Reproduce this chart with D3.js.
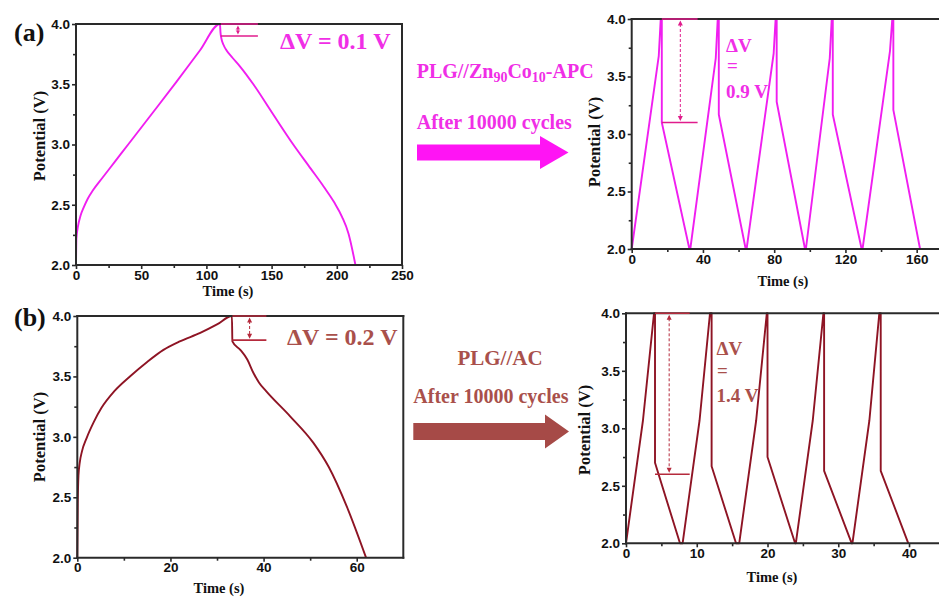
<!DOCTYPE html>
<html>
<head>
<meta charset="utf-8">
<script src="https://cdn.jsdelivr.net/npm/d3@7/dist/d3.min.js"></script>
<style>
  body { margin: 0; background: #fff; }
  svg { display: block; }
</style>
</head>
<body>
<svg id="fig" width="939" height="598"></svg>
<script>
// ---------- data: galvanostatic charge/discharge curves, [time (s), potential (V)] ----------

// PLG//Zn90Co10-APC, single cycle
const apcCycle = [
  [0, 2.0], [0.3, 2.22], [1.5, 2.32], [3.5, 2.41], [6, 2.48], [9, 2.55], [13, 2.62],
  [20, 2.72], [30, 2.86], [40, 3.0], [60, 3.28], [77, 3.52], [95, 3.78],
  [110.4, 4.0],
  [110.8, 3.93], [111.5, 3.88], [113, 3.83], [115.5, 3.78], [120, 3.72], [126, 3.645],
  [136, 3.5], [150, 3.27], [166.6, 3.0], [180, 2.8], [190, 2.65], [198, 2.52],
  [204, 2.4], [209, 2.26], [214.3, 2.0]
];

// PLG//Zn90Co10-APC, after 10000 cycles
const apcAged = [
  [0, 2.0], [15.2, 3.68], [16.3, 4.0], [16.9, 4.0], [16.9, 3.1], [32.4, 2.0],
  [32.9, 2.0], [47.2, 3.66], [48.3, 4.0], [48.9, 4.0], [48.9, 3.17], [64.0, 2.0],
  [64.5, 2.0], [79.7, 3.7], [80.8, 4.0], [81.4, 4.0], [81.4, 3.28], [97.3, 2.0],
  [97.8, 2.0], [111.2, 3.66], [112.3, 4.0], [112.9, 4.0], [112.9, 3.17], [129.1, 2.0],
  [129.6, 2.0], [145.0, 3.72], [146.3, 4.0], [146.9, 4.0], [146.9, 3.21], [161.9, 2.0]
];

// PLG//AC, single cycle
const acCycle = [
  [0, 2.0], [0.1, 2.45], [0.25, 2.68], [0.5, 2.78], [1.0, 2.88], [2.0, 2.99],
  [3.5, 3.12], [5.2, 3.24], [8, 3.38], [11.3, 3.5], [15, 3.62], [18.5, 3.72],
  [22, 3.79], [26.4, 3.86], [30, 3.93], [33.2, 4.0],
  [33.3, 3.79], [35, 3.72], [36.5, 3.64], [37.8, 3.53], [39, 3.45], [40.5, 3.38],
  [45.7, 3.17], [50.7, 2.95], [54, 2.75], [57.9, 2.42], [62, 2.0]
];

// PLG//AC, after 10000 cycles
const acAged = [
  [0, 2.0], [2.4, 3.07], [3.96, 4.0], [4.1, 4.0], [4.1, 2.7], [7.63, 2.0],
  [8.0, 2.0], [10.4, 3.07], [11.87, 4.0], [12.1, 4.0], [12.1, 2.67], [15.55, 2.0],
  [16.0, 2.0], [18.4, 3.07], [19.9, 4.0], [20.0, 4.0], [20.0, 2.75], [23.9, 2.0],
  [24.0, 2.0], [26.4, 3.07], [27.9, 4.0], [28.0, 4.0], [28.0, 2.63], [31.9, 2.0],
  [32.0, 2.0], [34.4, 3.07], [35.8, 4.0], [36.0, 4.0], [36.0, 2.63], [39.9, 2.0]
];

// tick values
const potentialMajor = [2.0, 2.5, 3.0, 3.5, 4.0];
const potentialMinor = [2.25, 2.75, 3.25, 3.75];
const apcTimeMajor = [0, 50, 100, 150, 200, 250];
const apcTimeMinor = [25, 75, 125, 175, 225];
const apcAgedTimeMajor = [0, 40, 80, 120, 160];
const apcAgedTimeMinor = [20, 60, 100, 140];
const acTimeMajor = [0, 20, 40, 60];
const acTimeMinor = [10, 30, 50];
const acAgedTimeMajor = [0, 10, 20, 30, 40];
const acAgedTimeMinor = [5, 15, 25, 35];

// IR-drop annotations: bracket start/end time, arrow time, ΔV
const apcDrop = { t0: 111, t1: 139.5, tArrow: 124.2, dv: 0.1 };
const apcAgedDrop = { t0: 16.9, t1: 37, tArrow: 27.3, dv: 0.9 };
const acDrop = { t0: 33.3, t1: 40.6, tArrow: 37, dv: 0.2 };
const acAgedDrop = { t0: 4.1, t1: 9, tArrow: 6.1, dv: 1.4 };

// ---------- styles ----------
const MAGENTA = "#f01ef0";
const MAGENTA_TEXT = "#f02ee6";
const MAGENTA_MARK = "#e01c8c";
const WINE = "#8e1424";
const WINE_TEXT = "#a9504b";
const WINE_MARK = "#b52a3c";
const AXIS = "#2a2a2a";
const SERIF = "'Liberation Serif', 'Times New Roman', serif";
const SANS = "'Liberation Sans', Arial, sans-serif";

const svg = d3.select("#fig");

function drawPanel(cfg) {
  const x = d3.scaleLinear().domain([0, cfg.xMax]).range([cfg.left, cfg.left + cfg.width]);
  const y = d3.scaleLinear().domain([2, 4]).range([cfg.top + cfg.height, cfg.top]);
  const g = svg.append("g");

  // curve
  const line = d3.line().x(d => x(d[0])).y(d => y(d[1])).curve(cfg.curve);
  g.append("path").datum(cfg.data)
    .attr("d", line)
    .attr("fill", "none")
    .attr("stroke", cfg.color)
    .attr("stroke-width", 1.9)
    .attr("stroke-linejoin", "round");

  // axes
  const bottom = cfg.top + cfg.height;
  const xMaj = d3.axisBottom(x).tickValues(cfg.xMajor).tickFormat(d3.format("d")).tickSize(4).tickPadding(1);
  const xMin = d3.axisBottom(x).tickValues(cfg.xMinor).tickFormat("").tickSize(3);
  const yMaj = d3.axisLeft(y).tickValues(potentialMajor).tickFormat(d3.format(".1f")).tickSize(4).tickPadding(2);
  const yMin = d3.axisLeft(y).tickValues(potentialMinor).tickFormat("").tickSize(3);

  [[xMaj, `translate(0,${bottom})`], [xMin, `translate(0,${bottom})`],
   [yMaj, `translate(${cfg.left},0)`], [yMin, `translate(${cfg.left},0)`]].forEach(([ax, tr]) => {
    const a = g.append("g").attr("transform", tr).call(ax);
    a.select(".domain").remove();
    a.selectAll(".tick line").attr("stroke", AXIS).attr("stroke-width", 1.6);
    a.selectAll(".tick text")
      .attr("fill", "#111")
      .style("font-family", SANS)
      .style("font-weight", "bold")
      .style("font-size", "13.5px");
  });

  // frame: left, bottom, top (+ right where visible)
  const right = cfg.left + cfg.width;
  const frame = [[cfg.left, cfg.top, cfg.left, bottom], [cfg.left, bottom, right, bottom],
                 [cfg.left, cfg.top, right, cfg.top]];
  if (cfg.rightBorder) frame.push([right, cfg.top, right, bottom]);
  g.selectAll("line.frame").data(frame).enter().append("line")
    .attr("x1", d => d[0]).attr("y1", d => d[1]).attr("x2", d => d[2]).attr("y2", d => d[3])
    .attr("stroke", AXIS).attr("stroke-width", 2).attr("stroke-linecap", "square");

  // axis titles
  g.append("text")
    .attr("x", cfg.xTitle[0]).attr("y", cfg.xTitle[1])
    .attr("text-anchor", "middle")
    .style("font-family", SERIF).style("font-weight", "bold").style("font-size", "14.5px")
    .attr("fill", "#111")
    .text("Time (s)");
  g.append("text")
    .attr("transform", `translate(${cfg.yTitle[0]},${cfg.yTitle[1]}) rotate(-90)`)
    .attr("text-anchor", "middle")
    .style("font-family", SERIF).style("font-weight", "bold").style("font-size", "16.5px")
    .attr("fill", "#111")
    .text("Potential (V)");

  // IR-drop bracket
  const d = cfg.drop;
  const yTop = y(4.0), yLow = y(4.0 - d.dv);
  g.append("line").attr("x1", x(d.t0)).attr("x2", x(d.t1)).attr("y1", yTop).attr("y2", yTop)
    .attr("stroke", cfg.markColor).attr("stroke-width", 1.6);
  g.append("line").attr("x1", x(d.t0)).attr("x2", x(d.t1)).attr("y1", yLow).attr("y2", yLow)
    .attr("stroke", cfg.markColor).attr("stroke-width", 1.6);
  const xa = x(d.tArrow);
  g.append("line").attr("x1", xa).attr("x2", xa).attr("y1", yTop + 5).attr("y2", yLow - 5)
    .attr("stroke", cfg.markColor).attr("stroke-width", 1).attr("stroke-dasharray", "3,2");
  g.append("path")
    .attr("d", `M${xa},${yTop + 1.5} l-2.5,5 h5 Z M${xa},${yLow - 1.5} l-2.5,-5 h5 Z`)
    .attr("fill", cfg.markColor);

  return { x, y, g };
}

// (a) PLG//Zn90Co10-APC
drawPanel({
  left: 76, top: 24, width: 326, height: 241, xMax: 250,
  xMajor: apcTimeMajor, xMinor: apcTimeMinor, data: apcCycle, curve: d3.curveMonotoneX,
  color: MAGENTA, markColor: MAGENTA_MARK, rightBorder: true,
  xTitle: [228, 296], yTitle: [45, 136], drop: apcDrop
});
drawPanel({
  left: 631.7, top: 19, width: 311.7, height: 230, xMax: 175,
  xMajor: apcAgedTimeMajor, xMinor: apcAgedTimeMinor, data: apcAged, curve: d3.curveLinear,
  color: MAGENTA, markColor: MAGENTA_MARK, rightBorder: false,
  xTitle: [783, 286], yTitle: [600, 142], drop: apcAgedDrop
});
// (b) PLG//AC
drawPanel({
  left: 77.3, top: 316, width: 326, height: 241.7, xMax: 70,
  xMajor: acTimeMajor, xMinor: acTimeMinor, data: acCycle, curve: d3.curveMonotoneX,
  color: WINE, markColor: WINE_MARK, rightBorder: true,
  xTitle: [219, 593], yTitle: [45, 437], drop: acDrop
});
drawPanel({
  left: 626, top: 313.3, width: 318.4, height: 230, xMax: 45,
  xMajor: acAgedTimeMajor, xMinor: acAgedTimeMinor, data: acAged, curve: d3.curveLinear,
  color: WINE, markColor: WINE_MARK, rightBorder: false,
  xTitle: [772, 582], yTitle: [590, 430], drop: acAgedDrop
});

// ---------- labels ----------
function label(x, y, str, size, color, anchor) {
  return svg.append("text")
    .attr("x", x).attr("y", y)
    .attr("text-anchor", anchor || "start")
    .style("font-family", SERIF).style("font-weight", "bold").style("font-size", size + "px")
    .attr("fill", color)
    .text(str);
}

label(14, 41, "(a)", 26, "#111");
label(14, 326, "(b)", 26, "#111");

label(280, 48.5, "ΔV = 0.1 V", 24, MAGENTA_TEXT);
label(287, 345, "ΔV = 0.2 V", 24, WINE_TEXT);

label(726, 52, "ΔV", 19, MAGENTA_TEXT);
label(727, 72, "=", 19, MAGENTA_TEXT);
label(726, 98.3, "0.9 V", 19, MAGENTA_TEXT);

label(716.5, 355, "ΔV", 19, WINE_TEXT);
label(717, 377, "=", 19, WINE_TEXT);
label(716.5, 401.5, "1.4 V", 19, WINE_TEXT);

// electrode-pair captions between the panels
const cap1 = label(416.7, 78, "PLG//Zn", 20, MAGENTA_TEXT);
cap1.append("tspan").attr("dy", 4).style("font-size", "14px").text("90");
cap1.append("tspan").attr("dy", -4).text("Co");
cap1.append("tspan").attr("dy", 4).style("font-size", "14px").text("10");
cap1.append("tspan").attr("dy", -4).text("-APC");
label(416.7, 128.5, "After 10000 cycles", 20, MAGENTA_TEXT);

label(500, 365, "PLG//AC", 21, WINE_TEXT, "middle");
label(413.3, 403, "After 10000 cycles", 20, WINE_TEXT);

// block arrows
function blockArrow(x0, xNeck, xTip, yMid, bodyHalf, headHalf, color) {
  svg.append("path")
    .attr("d", `M${x0},${yMid - bodyHalf} H${xNeck} V${yMid - headHalf} L${xTip},${yMid} ` +
               `L${xNeck},${yMid + headHalf} V${yMid + bodyHalf} H${x0} Z`)
    .attr("fill", color);
}
blockArrow(417, 540, 568.5, 152.5, 8, 16.5, "#ff14f4");
blockArrow(413.3, 545, 569, 431.5, 8.5, 17, "#a64a47");
</script>
</body>
</html>
